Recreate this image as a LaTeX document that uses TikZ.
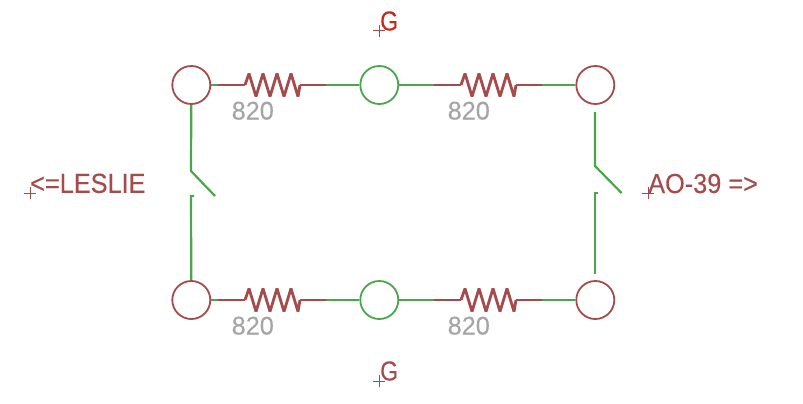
\documentclass[tikz,border=0pt]{standalone}
\usepackage{fontspec}
\setmainfont{Liberation Sans}
\newfontfamily\sketchfont[FakeBold=0.2]{Liberation Sans}
\definecolor{netred}{HTML}{A54B4B}
\definecolor{netgreen}{HTML}{4BA54B}
\definecolor{valgray}{HTML}{A5A5A5}
\definecolor{gndred}{HTML}{C42A18}
\tikzset{
  pad/.style={circle,draw=#1,line width=1.8pt,minimum size=38pt,inner sep=0pt,fill=none},
  wire/.style={netgreen,line width=2.2pt},
  lead/.style={netred,line width=2.2pt},
  zig/.style={netred,line width=2.8pt,line join=miter,miter limit=3},
  value/.style={text=valgray,anchor=base west,inner sep=0pt,font=\sketchfont\fontsize{25.5}{27}\selectfont},
  label/.style={anchor=base west,inner sep=0pt,font=\sketchfont\fontsize{27.5}{29}\selectfont},
  origin/.style={#1,line width=1pt},
}
\newcommand{\zigzag}[3]{% start x, y, end x
  \draw[zig] (#1,#2)
    -- ++(4,-11.5) -- ++(7,23) -- ++(7,-23) -- ++(7,23) -- ++(7,-23) -- ++(7,23) -- ++(7,-23) -- ++(7,23) -- (#3,#2);
}
\newcommand{\originmark}[3]{% x, y, colour
  \draw[origin=#3] (#1-6,#2) -- (#1+6,#2) (#1,#2-6) -- (#1,#2+6);
}
\begin{document}
\begin{tikzpicture}[x=1pt,y=-1pt]
\useasboundingbox (0,0) rectangle (803,404);
% pads
\node[pad=netred]   (tl) at (191.3,85) {};
\node[pad=netgreen] (tm) at (379.3,85) {};
\node[pad=netred]   (tr) at (595.3,85) {};
\node[pad=netred]   (bl) at (191.3,300) {};
\node[pad=netgreen] (bm) at (379.3,300) {};
\node[pad=netred]   (br) at (595.3,300) {};
% resistor end coordinates
\coordinate (r1a) at (218,85);  \coordinate (r1b) at (326,85);
\coordinate (r2a) at (434,85);  \coordinate (r2b) at (542,85);
\coordinate (r3a) at (218,300); \coordinate (r3b) at (326,300);
\coordinate (r4a) at (434,300); \coordinate (r4b) at (542,300);
% green wires
\draw[wire] (tl.east) -- (r1a) (r1b) -- (tm.west) (tm.east) -- (r2a) (r2b) -- (tr.west);
\draw[wire] (bl.east) -- (r3a) (r3b) -- (bm.west) (bm.east) -- (r4a) (r4b) -- (br.west);
% red leads
\draw[lead] (r1a) -- (245,85) (300,85) -- (r1b);
\draw[lead] (r2a) -- (461,85) (516,85) -- (r2b);
\draw[lead] (r3a) -- (245,300) (300,300) -- (r3b);
\draw[lead] (r4a) -- (461,300) (516,300) -- (r4b);
\zigzag{245}{85}{300}
\zigzag{461}{85}{516}
\zigzag{245}{300}{300}
\zigzag{461}{300}{516}
% switches
\coordinate (sl1) at (191,171); \coordinate (sl2) at (215,196);
\coordinate (sl3) at (194,196);
\draw[wire,line join=round] (tl.south) -- (sl1) -- (sl2);
\draw[wire] (bl.north) -- (191,196) -- (sl3);
\coordinate (sr0) at (595,112); \coordinate (sr1) at (595,166); \coordinate (sr2) at (621.5,193);
\coordinate (sr3) at (597.5,193); \coordinate (sr4) at (595,274);
\draw[wire,line join=round] (sr0) -- (sr1) -- (sr2);
\draw[wire] (sr4) -- (595,193) -- (sr3);
% values
\node[value] (v1) at (231.5,119.5) {\scalebox{0.99}[1]{820}};
\node[value] (v2) at (447.5,119.5) {\scalebox{0.99}[1]{820}};
\node[value] (v3) at (231.5,334.5) {\scalebox{0.99}[1]{820}};
\node[value] (v4) at (447.5,334.5) {\scalebox{0.99}[1]{820}};
% labels
\originmark{30}{193}{netred}
\originmark{648}{193}{netred}
\originmark{379}{31}{netred}
\originmark{379}{381}{netred}
\node[label,text=netred] (lesl) at (30,192.8) {\scalebox{0.92}[1]{<=LESLIE}};
\node[label,text=netred] (ao) at (648,193) {\scalebox{0.92}[1]{AO-39 =>}};
\node[label,text=gndred] (g1) at (380,30.5) {\scalebox{0.84}[1]{G}};
\node[label,text=netred] (g2) at (380,380.5) {\scalebox{0.84}[1]{G}};
\end{tikzpicture}
\end{document}
